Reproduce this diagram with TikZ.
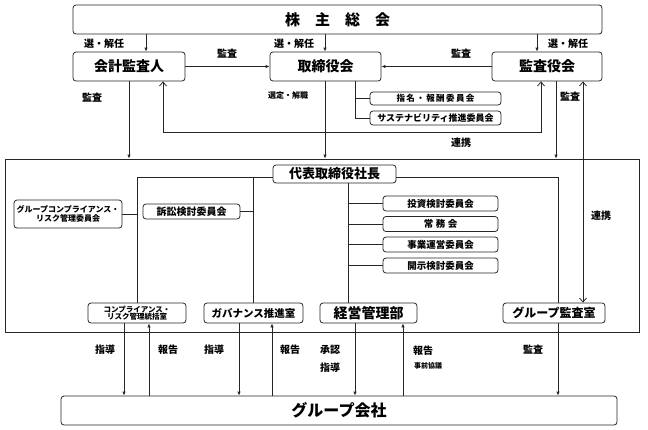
\documentclass[tikz,border=0pt]{standalone}
\usepackage{fontspec}
\setmainfont{Noto Sans CJK JP}
\usetikzlibrary{arrows.meta}
\tikzset{
  fs/.style={font=\bfseries\fontsize{#1}{#1}\selectfont},
  box/.style={draw=black!85, rounded corners=3pt, line width=0.8pt, inner sep=0pt, align=center},
  ln/.style={draw=black!85, line width=0.8pt},
  arr/.style={ln, -{Latex[length=4pt,width=3.5pt]}},
  barbs/.style={ln, {Straight Barb[length=4pt,width=7pt]}-{Straight Barb[length=4pt,width=7pt]}},
  lbl/.style={inner sep=0pt, fs=10},
}
\begin{document}
\begin{tikzpicture}[x=1pt,y=-1pt]
\useasboundingbox (0,0) rectangle (648,429);
% big frame
\node[draw=black!85, line width=0.8pt, minimum width=634pt, minimum height=173pt, inner sep=0pt] (big) at (322,245.5) {};
% top level
\node[box, minimum width=529pt, minimum height=29pt, fs=15] (sh) at (337.5,19.5) {株　主　総　会};
\node[box, minimum width=112pt, minimum height=29pt, fs=14] (kaikei) at (129,66.5) {会計監査人};
\node[box, minimum width=111pt, minimum height=29pt, fs=14] (tori) at (325.5,66.5) {取締役会};
\node[box, minimum width=110pt, minimum height=29pt, fs=14] (kansa) at (547,66.5) {監査役会};
\node[box, minimum width=131pt, minimum height=13pt, fs=8.5] (shimei) at (435.5,98.5) {指\,名\,・\,報\,酬\,委\,員\,会};
\node[box, minimum width=131pt, minimum height=14pt, fs=9] (sus) at (435.5,118) {サステナビリティ推進委員会};
% inside frame
\node[box, minimum width=123pt, minimum height=18pt, fs=13] (daihyo) at (334.5,174) {代表取締役社長};
\node[box, minimum width=108pt, minimum height=28pt, fs=8, align=center] (grc) at (68,214) {グループコンプライアンス・\\[1pt]リスク管理委員会};
\node[box, minimum width=97pt, minimum height=15pt, fs=10] (sosho) at (191.5,211.5) {訴訟検討委員会};
\node[box, minimum width=115pt, minimum height=15pt, fs=9.5] (toushi) at (440.5,203.5) {投資検討委員会};
\node[box, minimum width=115pt, minimum height=15pt, fs=9.5] (jomu) at (440.5,224) {常\hspace{2.5pt}務\hspace{2.5pt}会};
\node[box, minimum width=115pt, minimum height=15pt, fs=9.5] (jigyo) at (440.5,244.5) {事業運営委員会};
\node[box, minimum width=115pt, minimum height=15pt, fs=9.5] (kaiji) at (440.5,265.5) {開示検討委員会};
\node[box, minimum width=98pt, minimum height=20pt, fs=7.5, align=center] (comp) at (137,313) {コンプライアンス・\\リスク管理統括室};
\node[box, minimum width=99pt, minimum height=20pt, fs=10.5] (gov) at (253.5,313) {ガバナンス推進室};
\node[box, minimum width=97pt, minimum height=20pt, fs=14] (keiei) at (368.5,313) {経営管理部};
\node[box, minimum width=102pt, minimum height=20pt, fs=12] (gkansa) at (554,313) {グループ監査室};
% bottom
\node[box, minimum width=556pt, minimum height=29pt, fs=16] (gco) at (339,410.5) {グループ会社};

% connectors top
\draw[arr] (sh.south -| 146,0) -- (kaikei.north -| 146,0);
\draw[arr] (sh.south -| 325,0) -- (tori.north -| 325,0);
\draw[arr] (sh.south -| 537,0) -- (kansa.north -| 537,0);
\draw[arr] (kaikei.east) -- (tori.west);
\draw[arr] (kansa.west) -- (tori.east);
\draw[arr] (kaikei.south -| 129,0) -- (big.north -| 129,0);
\draw[arr] (tori.south -| 325,0) -- (big.north -| 325,0);
\draw[arr] (kansa.south -| 556,0) -- (big.north -| 556,0);
\coordinate (lpR) at (541,132);
\coordinate (lpL) at (163,132);
\draw[barbs] (kansa.south -| lpR) -- (lpR) -- (lpL) -- (kaikei.south -| lpL);
\draw[ln] (tori.south -| 355,0) |- (sus.west);
\draw[ln] (shimei.west) -- (shimei.west -| 355,0);
\draw[barbs] (kansa.south -| 583,0) -- (gkansa.north -| 583,0);

% inside frame
\draw[ln] ([yshift=-3pt]daihyo.west) -| (comp.north);
\draw[ln] (gov.north) |- ([yshift=-3pt]daihyo.west);
\draw[ln] (grc.east) -- (grc.east -| comp.north);
\draw[ln] (sosho.east) -- (sosho.east -| gov.north);
\draw[ln] ([yshift=-3pt]daihyo.east) -| (gkansa.north -| 558,0);
\draw[ln] (daihyo.south -| 348,0) -- (keiei.north -| 348,0);
\foreach \n in {toushi,jomu,jigyo,kaiji}{
  \draw[ln] (\n.west) -- (\n.west -| 348,0);
}

% bottom arrows
\draw[arr] (comp.south -| 124,0) -- (gco.north -| 124,0);
\draw[arr] (gco.north -| 149,0) -- (comp.south -| 149,0);
\draw[arr] (gov.south -| 239,0) -- (gco.north -| 239,0);
\draw[arr] (gco.north -| 272,0) -- (gov.south -| 272,0);
\draw[arr] (keiei.south -| 355,0) -- (gco.north -| 355,0);
\draw[arr] (gco.north -| 403,0) -- (keiei.south -| 403,0);
\draw[arr] (gkansa.south -| 558,0) -- (gco.north -| 558,0);

% labels
\node[lbl] (l1) at (104,44) {選・解任};
\node[lbl] (l2) at (294,44) {選・解任};
\node[lbl] (l3) at (568,44) {選・解任};
\node[lbl] (l4) at (227,54) {監査};
\node[lbl] (l5) at (461,54) {監査};
\node[lbl] (l6) at (92,98) {監査};
\node[lbl, fs=8] (l7) at (288,95) {選定・解職};
\node[lbl] (l8) at (570,97) {監査};
\node[lbl] (l9) at (461,143) {連携};
\node[lbl] (l10) at (601,216) {連携};
\node[lbl] (l11) at (105,350) {指導};
\node[lbl] (l12) at (168,350) {報告};
\node[lbl] (l13) at (214,350) {指導};
\node[lbl] (l14) at (290,350) {報告};
\node[lbl] (l15) at (330,350) {承認};
\node[lbl] (l16) at (330,368) {指導};
\node[lbl] (l17) at (423,351) {報告};
\node[lbl, fs=7] (l18) at (428,366) {事前協議};
\node[lbl] (l19) at (533,350) {監査};
\end{tikzpicture}
\end{document}
